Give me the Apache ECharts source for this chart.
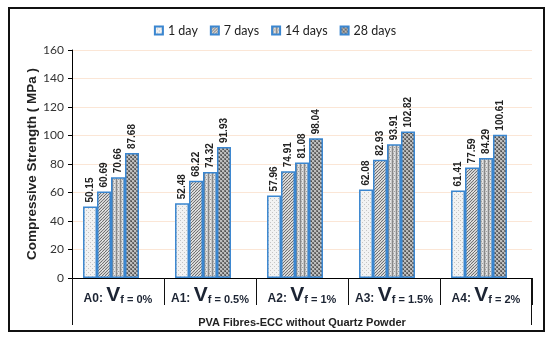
<!DOCTYPE html>
<html><head><meta charset="utf-8">
<script src="https://cdn.jsdelivr.net/npm/echarts@6/dist/echarts.min.js"></script>
<style>html,body{margin:0;padding:0;background:#fff}#c{width:550px;height:340px}</style>
</head><body><div id="c"></div>
<script>
const categories = ['A0|0%', 'A1|0.5%', 'A2|1%', 'A3|1.5%', 'A4|2%'];
const seriesNames = ['1 day', '7 days', '14 days', '28 days'];
const day1 = [50.15, 52.48, 57.96, 62.08, 61.41];
const day7 = [60.69, 68.22, 74.91, 82.93, 77.59];
const day14 = [70.66, 74.32, 81.08, 93.91, 84.29];
const day28 = [87.68, 91.93, 98.04, 102.82, 100.61];
const yTicks = [0, 20, 40, 60, 80, 100, 120, 140, 160];

function pat(draw, size) {
  const c = document.createElement('canvas');
  c.width = c.height = size || 6;
  const ctx = c.getContext('2d');
  draw(ctx, c.width);
  return { image: c, repeat: 'repeat' };
}
const p1 = pat((ctx, s) => { ctx.fillStyle = '#f2f2f2'; ctx.fillRect(0,0,s,s); ctx.fillStyle = '#c4c4c4';
  for (let x=0;x<s;x+=2) for (let y=0;y<s;y+=2) if (((x+y)/2)%2===0) ctx.fillRect(x,y,1,1); }, 4);
const p7 = pat((ctx, s) => { ctx.fillStyle = '#ffffff'; ctx.fillRect(0,0,s,s); ctx.strokeStyle = '#6a6a6a'; ctx.lineWidth = 1.1;
  for (let k=-s;k<=2*s;k+=3){ ctx.beginPath(); ctx.moveTo(k, s); ctx.lineTo(k+s, 0); ctx.stroke(); } }, 6);
const p14 = pat((ctx, s) => { ctx.fillStyle = '#c6c6c6'; ctx.fillRect(0,0,s,s); ctx.fillStyle = '#888888';
  ctx.fillRect(0,0,1,s); ctx.fillStyle = '#e4e4e4'; ctx.fillRect(2,0,1,s); ctx.fillStyle='#a0a0a0'; ctx.fillRect(1,1,1,1); ctx.fillRect(2,3,1,1); }, 4);
const p28 = pat((ctx, s) => { ctx.fillStyle = '#737373'; ctx.fillRect(0,0,s,s); ctx.fillStyle = '#bdbdbd';
  ctx.fillRect(0,0,2,2); ctx.fillRect(2,2,2,2); ctx.fillStyle='#4f4f4f'; ctx.fillRect(1,3,1,1); ctx.fillRect(3,1,1,1); }, 4);
const patterns = [p1, p7, p14, p28];
const dataSets = [day1, day7, day14, day28];

const GL = 72, GR = 18, GT = 50, GB = 62;
const W = 550, H = 340;
const chart = echarts.init(document.getElementById('c'), null, { renderer: 'canvas' });

const series = dataSets.map((d, i) => ({
  name: seriesNames[i], type: 'bar', data: d, barGap: '0%', barCategoryGap: '24%',
  itemStyle: { color: patterns[i], borderColor: '#3a86d0', borderWidth: 1.5 },
  label: { show: true, position: 'top', rotate: 90, align: 'left', verticalAlign: 'middle', distance: 4,
    fontFamily: 'Liberation Sans', fontWeight: 'bold', fontSize: 10, color: '#222',
    formatter: p => p.value.toFixed(2) }
}));
series.push({ name: 'pad', type: 'bar', data: [], barGap: '0%', barCategoryGap: '24%' });

chart.setOption({
  animation: false,
  textStyle: { fontFamily: 'Lato' },
  legend: { data: seriesNames, top: 19, left: 'center', itemWidth: 8, itemHeight: 8, itemGap: 12, icon: 'rect',
    textStyle: { fontSize: 12.5, color: '#222', fontFamily: 'Lato' } },
  grid: { left: GL, right: GR, top: GT, bottom: GB },
  xAxis: {
    type: 'category', data: categories,
    axisLine: { lineStyle: { color: '#000', width: 1 } },
    axisTick: { show: true, length: 27, alignWithLabel: false, lineStyle: { color: '#111' } },
    axisLabel: { margin: 7, interval: 0,
      formatter: v => { const [a, b] = v.split('|'); return '{a|' + a + ': }{v|V}{s|f = ' + b + '}'; },
      rich: {
        a: { fontFamily: 'Liberation Sans', fontWeight: 'bold', fontSize: 12, color: '#1c2433', verticalAlign: 'bottom', padding: [0,0,1,0] },
        v: { fontFamily: 'Liberation Sans', fontWeight: 'bold', fontSize: 21, color: '#1c2433', verticalAlign: 'bottom' },
        s: { fontFamily: 'Liberation Sans', fontWeight: 'bold', fontSize: 11, color: '#1c2433', verticalAlign: 'bottom', padding: [0,0,1,0] }
      } },
    name: 'PVA Fibres-ECC without Quartz Powder', nameLocation: 'middle', nameGap: 39, nameMoveOverlap: false,
    nameTextStyle: { fontFamily: 'Liberation Sans', fontWeight: 'bold', fontSize: 11, color: '#222' }
  },
  yAxis: {
    type: 'value', min: 0, max: 160, interval: 20,
    axisLine: { show: true, lineStyle: { color: '#000' } },
    axisTick: { show: true, length: 4, lineStyle: { color: '#000' } },
    axisLabel: { fontSize: 12, color: '#333', margin: 8, fontFamily: 'Lato',
      formatter: v => yTicks.includes(v) ? String(v) : '' },
    splitLine: { show: true, lineStyle: { color: '#fbe6d6', width: 1 } },
    name: 'Compressive Strength ( MPa )', nameLocation: 'middle', nameGap: 33, nameRotate: 90, nameMoveOverlap: false,
    nameTextStyle: { fontFamily: 'Liberation Sans', fontWeight: 'bold', fontSize: 13.5, color: '#222' }
  },
  series: series,
  graphic: [
    { type: 'rect', shape: { x: 9, y: 8, width: 535, height: 323 }, style: { fill: null, stroke: '#111', lineWidth: 2 }, silent: true },
    { type: 'line', shape: { x1: GL + 0.5, y1: H - GB, x2: GL + 0.5, y2: 325 }, style: { stroke: '#111', lineWidth: 1 } },
    { type: 'line', shape: { x1: W - GR - 0.5, y1: H - GB, x2: W - GR - 0.5, y2: 325 }, style: { stroke: '#111', lineWidth: 1 } }
  ]
});
</script></body></html>
